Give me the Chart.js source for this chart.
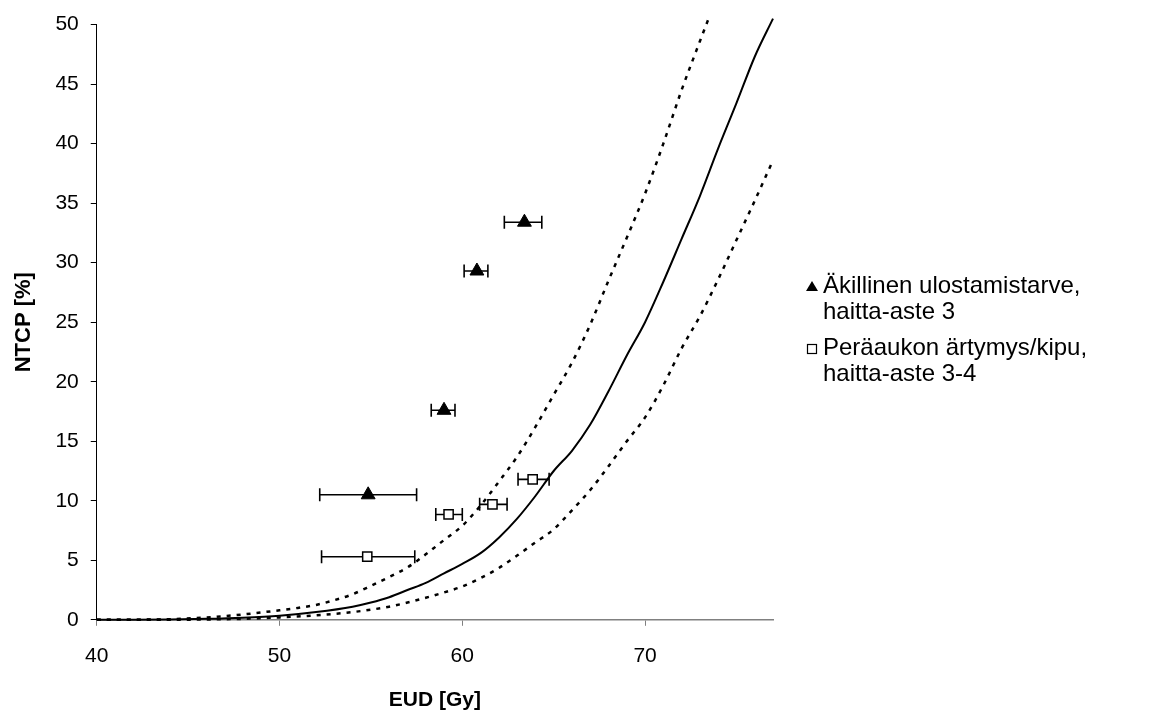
<!DOCTYPE html>
<html>
<head>
<meta charset="utf-8">
<script src="https://cdn.jsdelivr.net/npm/chart.js@4/dist/chart.umd.min.js"></script>
<style>
  body { margin: 0; background: #fff; }
  #wrap { position: relative; width: 1152px; height: 711px; }
  #legend { position: absolute; left: 805px; top: 272px; font-family: "Liberation Sans", Arial, sans-serif; font-size: 24px; color: #000; line-height: 26px; }
  .item { position: relative; padding-left: 18px; margin-bottom: 10px; }
  .mark { position: absolute; left: 0; top: 7px; }
</style>
</head>
<body>
<div id="wrap">
  <canvas id="c" width="1152" height="711"></canvas>
  <div id="legend">
    <div class="item"><svg class="mark" width="14" height="14"><polygon points="7,2 13,12 1,12" fill="#000"/></svg>Äkillinen ulostamistarve,<br>haitta-aste 3</div>
    <div class="item"><svg class="mark" width="14" height="14"><rect x="2.5" y="3.5" width="9" height="9" fill="#fff" stroke="#000" stroke-width="1.2"/></svg>Peräaukon ärtymys/kipu,<br>haitta-aste 3-4</div>
  </div>
</div>
<script>
// NTCP vs EUD
const xTicks = [40, 50, 60, 70];
const yTicks = [0, 5, 10, 15, 20, 25, 30, 35, 40, 45, 50];

// fitted curve (solid) and its confidence limits (dotted)
const curveX = [40, 42, 44, 46, 48, 50, 52, 54, 55, 56, 57, 58, 59, 60, 61, 62, 63, 64, 65, 66, 67, 68, 69, 70, 71, 72, 73, 74, 75, 76, 77];
const curveMid = [0, 0, 0.02, 0.08, 0.18, 0.35, 0.65, 1.1, 1.45, 1.9, 2.5, 3.1, 3.9, 4.7, 5.6, 6.9, 8.5, 10.4, 12.5, 14.2, 16.4, 19.2, 22.2, 25.0, 28.4, 32.0, 35.6, 39.6, 43.4, 47.3, 50.5];
const curveLow = [0, 0, 0, 0.03, 0.08, 0.2, 0.38, 0.65, 0.85, 1.1, 1.45, 1.85, 2.3, 2.8, 3.5, 4.35, 5.4, 6.5, 7.6, 9.2, 10.9, 12.9, 15.0, 17.0, 19.7, 22.8, 25.5, 28.6, 31.9, 35.2, 38.6];
const upperX = [40, 42, 44, 46, 48, 50, 51, 52, 53, 54, 55, 56, 57, 58, 59, 60, 61, 62, 63, 64, 65, 66, 67, 68, 69, 70, 71, 72, 73, 73.6];
const curveHigh = [0, 0.01, 0.05, 0.2, 0.45, 0.8, 1.0, 1.25, 1.65, 2.15, 2.85, 3.6, 4.4, 5.5, 6.7, 7.9, 9.6, 11.6, 13.7, 16.2, 18.9, 21.6, 24.8, 28.5, 32.1, 35.8, 40.0, 44.5, 48.6, 51.0];

// Äkillinen ulostamistarve (triangles)
const urgX = [54.85, 59.0, 60.8, 63.4];
const urgY = [10.5, 17.6, 29.3, 33.4];
const urgXlo = [52.2, 58.3, 60.1, 62.3];
const urgXhi = [57.5, 59.6, 61.4, 64.35];

// Peräaukon ärtymys/kipu (squares)
const irrX = [54.8, 59.25, 61.65, 63.85];
const irrY = [5.3, 8.85, 9.7, 11.8];
const irrXlo = [52.3, 58.55, 60.95, 63.05];
const irrXhi = [57.4, 60.0, 62.45, 64.75];

const toPts = (xs, ys) => xs.map((x, i) => ({ x: x, y: ys[i] }));

const errorBars = {
    id: 'errorBars',
    beforeDatasetsDraw(chart) {
        const ctx = chart.ctx;
        const xs = chart.scales.x, ys = chart.scales.y;
        const groups = [[urgY, urgXlo, urgXhi], [irrY, irrXlo, irrXhi]];
        ctx.save();
        ctx.strokeStyle = '#000';
        ctx.lineWidth = 1.6;
        groups.forEach(([yv, lo, hi]) => {
            yv.forEach((y, i) => {
                const py = ys.getPixelForValue(y);
                const a = xs.getPixelForValue(lo[i]);
                const b = xs.getPixelForValue(hi[i]);
                ctx.beginPath();
                ctx.moveTo(a, py); ctx.lineTo(b, py);
                ctx.moveTo(a, py - 6.5); ctx.lineTo(a, py + 6.5);
                ctx.moveTo(b, py - 6.5); ctx.lineTo(b, py + 6.5);
                ctx.stroke();
            });
        });
        ctx.restore();
    }
};

const lineBase = { showLine: true, pointRadius: 0, borderColor: '#000', fill: false, cubicInterpolationMode: 'monotone', clip: 8 };

new Chart(document.getElementById('c'), {
    type: 'scatter',
    data: {
        datasets: [
            Object.assign({ label: 'NTCP', data: toPts(curveX, curveMid), borderWidth: 2 }, lineBase),
            Object.assign({ label: 'upper', data: toPts(upperX, curveHigh), borderWidth: 2.5, borderDash: [4, 6] }, lineBase),
            Object.assign({ label: 'lower', data: toPts(curveX, curveLow), borderWidth: 2.5, borderDash: [4, 6] }, lineBase),
            {
                label: 'Äkillinen ulostamistarve, haitta-aste 3',
                data: toPts(urgX, urgY),
                pointStyle: 'triangle', pointRadius: 8,
                backgroundColor: '#000', borderColor: '#000', borderWidth: 1
            },
            {
                label: 'Peräaukon ärtymys/kipu, haitta-aste 3-4',
                data: toPts(irrX, irrY),
                pointStyle: 'rect', pointRadius: 6.5,
                backgroundColor: '#fff', borderColor: '#000', borderWidth: 1.5
            }
        ]
    },
    options: {
        responsive: false,
        animation: false,
        layout: { padding: { left: 7, right: 379, top: 11, bottom: 0 } },
        plugins: { legend: { display: false }, tooltip: { enabled: false } },
        scales: {
            x: {
                type: 'linear', min: 40, max: 77,
                afterBuildTicks: s => { s.ticks = xTicks.map(v => ({ value: v })); },
                grid: { drawOnChartArea: false, color: '#808080', tickLength: 6 },
                border: { color: '#808080', width: 1.5 },
                ticks: { color: '#000', font: { family: 'Liberation Sans', size: 21 }, padding: 18, maxRotation: 0 },
                title: { display: true, text: 'EUD [Gy]', color: '#000', font: { family: 'Liberation Sans', size: 21, weight: 'bold', lineHeight: 1 }, padding: { top: 3, bottom: 0 } }
            },
            y: {
                min: 0, max: 50,
                afterBuildTicks: s => { s.ticks = yTicks.map(v => ({ value: v })); },
                grid: { drawOnChartArea: false, color: '#000', tickLength: 6 },
                border: { color: '#000', width: 1 },
                ticks: { color: '#000', font: { family: 'Liberation Sans', size: 21 }, padding: 12 },
                title: { display: true, text: 'NTCP [%]', color: '#000', font: { family: 'Liberation Sans', size: 22, weight: 'bold' }, padding: { bottom: 6 } }
            }
        }
    },
    plugins: [errorBars]
});
</script>
</body>
</html>
